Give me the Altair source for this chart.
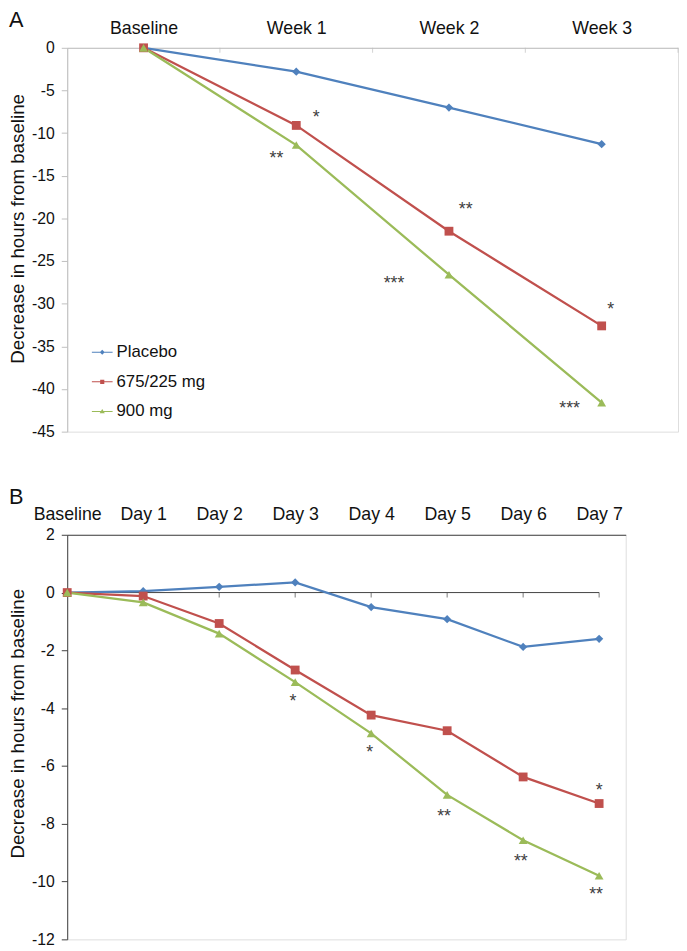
import json
import altair as alt
import pandas as pd

FONT = "Liberation Sans"

series = ["Placebo", "675/225 mg", "900 mg"]
colors = ["#4F81BD", "#C0504D", "#9BBB59"]
marker_shapes = ["diamond", "square", "triangle-up"]

# Panel A (weekly)
weeks = ["Baseline", "Week 1", "Week 2", "Week 3"]
a_placebo = [0, -2.8, -7.0, -11.3]
a_mid = [0, -9.1, -21.5, -32.6]
a_high = [0, -11.4, -26.6, -41.6]
a_ann_text = ["*", "**", "**", "***", "*", "***"]
a_ann_x = [1.13, 0.87, 2.11, 1.64, 3.06, 2.79]
a_ann_y = [-7.65, -12.5, -18.4, -27.1, -30.2, -41.8]

# Panel B (daily)
days = ["Baseline", "Day 1", "Day 2", "Day 3", "Day 4", "Day 5", "Day 6", "Day 7"]
b_placebo = [0, 0.05, 0.2, 0.35, -0.5, -0.92, -1.88, -1.6]
b_mid = [0, -0.12, -1.07, -2.68, -4.24, -4.78, -6.38, -7.3]
b_high = [0, -0.34, -1.42, -3.1, -4.87, -7.0, -8.57, -9.8]
b_ann_text = ["*", "*", "**", "**", "**", "*"]
b_ann_x = [2.97, 3.98, 4.96, 5.97, 6.96, 7.0]
b_ann_y = [-3.63, -5.40, -7.59, -9.16, -10.29, -6.70]

# legend symbols: a short line with the marker in its middle
legend_paths = [
    "M-1,-0.05L1,-0.05L1,0.05L-1,0.05Z M0,-0.24L0.24,0L0,0.24L-0.24,0Z",
    "M-1,-0.05L1,-0.05L1,0.05L-1,0.05Z M-0.2,-0.2L0.2,-0.2L0.2,0.2L-0.2,0.2Z",
    "M-1,-0.05L1,-0.05L1,0.05L-1,0.05Z M0,-0.24L0.25,0.18L-0.25,0.18Z",
]


def long_df(cats, cols):
    rows = []
    for s, vals in zip(series, cols):
        for i, v in enumerate(vals):
            rows.append({"idx": i, "cat": cats[i], "series": s, "value": v})
    return pd.DataFrame(rows)


def build_panel(cats, cols, ann_text, ann_x, ann_y, xdomain, ydomain, yvalues,
                width, height, axis_color, label, title_offset, ytitle_y,
                ticks_df, zero_df=None, legend=False):
    df = long_df(cats, cols)
    ann_df = pd.DataFrame({"idx": ann_x, "value": ann_y, "label": ann_text})
    xscale = alt.Scale(domain=xdomain, nice=False, zero=False)
    yscale = alt.Scale(domain=ydomain, nice=False, zero=False)
    label_expr = "%s[datum.value]" % json.dumps(cats)
    x_axis = alt.Axis(orient="top", values=list(range(len(cats))), labelExpr=label_expr,
                      ticks=False, tickSize=0, grid=False, domainColor=axis_color,
                      domainWidth=1, labelFontSize=18, labelFont=FONT, labelColor="#111111",
                      labelPadding=15, labelBaseline="alphabetic", title=None,
                      labelFlush=False, labelOverlap=False)
    y_axis = alt.Axis(values=yvalues, grid=False, domainColor=axis_color, tickColor=axis_color,
                      tickSize=6, labelFontSize=16, labelFont=FONT, labelColor="#111111",
                      labelExpr="'' + datum.value",
                      labelPadding=7, title="Decrease in hours from baseline",
                      titleFontSize=19, titleFont=FONT, titleFontWeight="normal",
                      titleColor="#111111", titlePadding=4, titleY=ytitle_y)
    X = alt.X("idx:Q", scale=xscale, axis=x_axis)
    Y = alt.Y("value:Q", scale=yscale, axis=y_axis)

    layers = []
    layers.append(alt.Chart(ticks_df).mark_tick(orient="vertical", size=5, thickness=1,
                                                color=axis_color, yOffset=2.5)
                  .encode(x=X, y=Y))
    if zero_df is not None:
        layers.append(alt.Chart(zero_df).mark_rule(color=axis_color, strokeWidth=1)
                      .encode(x=X, x2="idx2:Q", y=Y))
    for s, c in zip(series, colors):
        layers.append(alt.Chart(df).transform_filter(alt.datum.series == s)
                      .mark_line(strokeWidth=2.3, color=c)
                      .encode(x=X, y=Y, order="idx:Q"))
    for s, c, shp in zip(series, colors, marker_shapes):
        size = 70 if shp == "diamond" else 80
        layers.append(alt.Chart(df).transform_filter(alt.datum.series == s)
                      .mark_point(shape=shp, filled=True, opacity=1, size=size, color=c)
                      .encode(x=X, y=Y))
    layers.append(alt.Chart(ann_df).mark_text(fontSize=18, font=FONT, color="#404040", dy=5)
                  .encode(x=X, y=Y, text="label:N"))
    if legend:
        leg = alt.Legend(title=None, orient="none", legendX=25, legendY=298,
                         symbolSize=441, symbolStrokeWidth=0, labelFontSize=17,
                         labelFont=FONT, labelColor="#111111", labelOffset=4,
                         rowPadding=11)
        cscale = alt.Scale(domain=series, range=colors)
        layers.append(alt.Chart(df).transform_filter("false")
                      .mark_point(filled=True, opacity=1)
                      .encode(x=X, y=Y,
                              color=alt.Color("series:N", scale=cscale, legend=leg),
                              shape=alt.Shape("series:N",
                                              scale=alt.Scale(domain=series, range=legend_paths),
                                              legend=leg)))
    return alt.layer(*layers).properties(
        width=width, height=height,
        title=alt.TitleParams(text=label, anchor="start", frame="group", fontSize=22,
                              font=FONT, fontWeight="normal", color="#111111",
                              baseline="alphabetic", dx=-59, offset=title_offset),
    )


a_ticks = pd.DataFrame({"idx": [i + 0.5 for i in range(len(weeks))], "value": [0] * len(weeks)})
chart_a = build_panel(weeks, [a_placebo, a_mid, a_high], a_ann_text, a_ann_x, a_ann_y,
                      [-0.5, len(weeks) - 0.5], [-45, 0], list(range(-45, 1, 5)),
                      619, 389, "#BFBFBF", "A", -29.5, 183, a_ticks, legend=True)

b_ticks = pd.DataFrame({"idx": list(range(1, len(days))), "value": [0] * (len(days) - 1)})
b_zero = pd.DataFrame({"idx": [0], "idx2": [len(days) - 1], "value": [0]})
chart_b = build_panel(days, [b_placebo, b_mid, b_high], b_ann_text, b_ann_x, b_ann_y,
                      [0, 7.35], [-12, 2], list(range(-12, 3, 2)),
                      566, 410, "#404040", "B", -20, 191, b_ticks, zero_df=b_zero)

chart = (alt.vconcat(chart_a, chart_b, spacing=45.5)
         .resolve_scale(color="independent", shape="independent")
         .resolve_legend(color="independent", shape="independent")
         .properties(padding={"top": -6, "left": 0, "right": 0, "bottom": 0},
                     background="white")
         .configure_view(strokeWidth=0)
         .configure(font=FONT))

chart.save("out.html", embed_options={"renderer": "svg", "actions": False})
